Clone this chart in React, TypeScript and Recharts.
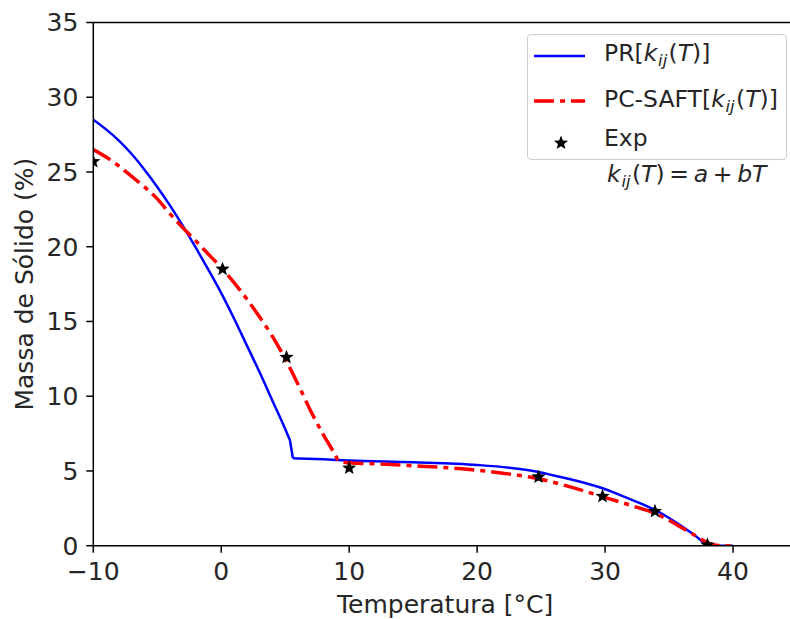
import React from 'react';
import { ComposedChart, Line, Scatter, XAxis, YAxis, ReferenceLine } from 'recharts';

const xTicks = [-10, 0, 10, 20, 30, 40];
const yTicks = [0, 5, 10, 15, 20, 25, 30, 35];

const prX = [-10, -9, -8, -7, -6, -5, -4, -3, -2, -1, 0, 1, 2, 3, 4, 5, 5.37, 5.6, 8, 10, 15, 20, 22.5, 24.7, 26, 27.5, 29.8, 31, 32, 33, 33.9, 35, 36, 37, 38.2, 40];
const prY = [28.5, 27.85, 27.1, 26.2, 25.15, 24.0, 22.75, 21.4, 19.95, 18.45, 16.9, 15.2, 13.4, 11.6, 9.7, 7.8, 7.05, 5.85, 5.78, 5.7, 5.58, 5.4, 5.22, 4.95, 4.7, 4.4, 3.84, 3.45, 3.1, 2.75, 2.39, 1.85, 1.3, 0.7, 0, 0];

const saftX = [-10, -9, -8, -7, -6, -5, -4, -2.7, -2, -1, 0, 1, 2, 3, 4, 5, 6, 7, 8, 8.9, 9.2, 10, 12, 15, 18, 20, 22, 24.7, 27, 29.8, 32, 33.9, 35, 36, 37, 38, 38.7, 39.4, 40];
const saftY = [26.5, 26.0, 25.4, 24.7, 24.0, 23.2, 22.2, 21.0, 20.4, 19.5, 18.6, 17.6, 16.5, 15.3, 14.0, 12.5, 10.8, 9.0, 7.4, 6.1, 5.65, 5.55, 5.48, 5.35, 5.2, 5.05, 4.85, 4.5, 4.0, 3.28, 2.7, 2.17, 1.7, 1.2, 0.7, 0.2, 0.03, 0, 0];

const expX = [-10, 0.1, 5.1, 10, 24.8, 29.8, 33.9, 38];
const expY = [25.7, 18.5, 12.6, 5.2, 4.6, 3.3, 2.3, 0.05];

const prData = prX.map((x, i) => ({ x, y: prY[i] }));
const kinkStart = prX.indexOf(5.37);
const kinkEnd = prX.indexOf(5.6);
const prCurve = prData.slice(0, kinkStart + 1);
const prKink = prData.slice(kinkStart, kinkEnd + 1);
const prTail = prData.slice(kinkEnd);
const saftData = saftX.map((x, i) => ({ x, y: saftY[i] }));
const expData = expX.map((x, i) => ({ x, y: expY[i] }));

const FONT = 'DejaVu Sans';
const FS = 25;
const LFS = 23.5;

const starPoints = (cx: number, cy: number, R: number, r: number) => {
  const pts: string[] = [];
  for (let i = 0; i < 10; i++) {
    const rad = i % 2 === 0 ? R : r;
    const a = -Math.PI / 2 + (i * Math.PI) / 5;
    pts.push(`${cx + rad * Math.cos(a)},${cy + rad * Math.sin(a)}`);
  }
  return pts.join(' ');
};

const Star = (props: any) => {
  const { cx, cy } = props;
  if (cx == null || cy == null) return null;
  return <polygon points={starPoints(cx, cy, 7.5, 3.2)} fill="black" />;
};

const fmt = (v: number) => (v < 0 ? '\u2212' + Math.abs(v) : String(v));

const K = () => (
  <span>
    <i>k</i>
    <span style={{ fontStyle: 'italic', fontSize: '0.7em', position: 'relative', top: '0.3em', marginLeft: '0.05em', marginRight: '0.08em' }}>ij</span>
    (<i>T</i>)
  </span>
);

const Op = ({ c }: { c: string }) => <span style={{ margin: '0 0.2em' }}>{c}</span>;

export default function App() {
  return (
    <div style={{ position: 'absolute', left: 0, top: 0, width: 790, height: 619, overflow: 'hidden', background: 'white' }}>
      <ComposedChart
        width={800}
        height={619}
        margin={{ top: 22.5, right: 3, bottom: 0, left: 0 }}
        style={{ fontFamily: FONT }}
      >
        <XAxis
          type="number"
          dataKey="x"
          domain={[-10, 45]}
          ticks={xTicks}
          allowDataOverflow
          height={73.3}
          tickFormatter={fmt}
          stroke="#000"
          strokeWidth={1.5}
          tickSize={7}
          tickMargin={10}
          tick={{ fill: '#262626', fontSize: FS, fontFamily: FONT }}
          label={{ value: 'Temperatura [°C]', position: 'insideBottom', offset: 6, fill: '#262626', fontSize: FS, fontFamily: FONT }}
        />
        <YAxis
          type="number"
          dataKey="y"
          domain={[0, 35]}
          ticks={yTicks}
          allowDataOverflow
          width={93.3}
          stroke="#000"
          strokeWidth={1.5}
          tickSize={7}
          tickMargin={8}
          tick={{ fill: '#262626', fontSize: FS, fontFamily: FONT }}
          label={{ value: 'Massa de Sólido (%)', angle: -90, position: 'insideLeft', offset: 24, style: { textAnchor: 'middle' }, fill: '#262626', fontSize: FS, fontFamily: FONT }}
        />
        <ReferenceLine y={35} stroke="#000" strokeWidth={1.5} />
        <Line data={prCurve} dataKey="y" type="monotone" stroke="#0000ff" strokeWidth={2.5} dot={false} isAnimationActive={false} />
        <Line data={prKink} dataKey="y" type="linear" stroke="#0000ff" strokeWidth={2.5} dot={false} isAnimationActive={false} />
        <Line data={prTail} dataKey="y" type="monotone" stroke="#0000ff" strokeWidth={2.5} dot={false} isAnimationActive={false} />
        <Line data={saftData} dataKey="y" type="monotone" stroke="#ff0000" strokeWidth={3.5} strokeDasharray="20 6 5 6" dot={false} isAnimationActive={false} />
        <Scatter data={expData} dataKey="y" fill="#000" shape={<Star />} isAnimationActive={false} />
      </ComposedChart>
      <div
        style={{
          position: 'absolute',
          left: 527,
          top: 34,
          width: 260,
          height: 126,
          border: '1px solid #cccccc',
          borderRadius: 4,
          background: 'rgba(255,255,255,0.8)',
          boxSizing: 'border-box',
          fontFamily: FONT,
          fontSize: LFS,
          color: '#262626',
        }}
      >
        <svg width={60} height={126} style={{ position: 'absolute', left: 0, top: 0 }}>
          <line x1={6} y1={21} x2={57} y2={21} stroke="#0000ff" strokeWidth={2.5} />
          <line x1={6} y1={66} x2={57} y2={66} stroke="#ff0000" strokeWidth={3.5} strokeDasharray="20 6 5 6" />
          <polygon points={starPoints(33, 108, 7.5, 3.2)} fill="black" />
        </svg>
        <div style={{ position: 'absolute', left: 76, top: 19, transform: 'translateY(-55%)', whiteSpace: 'nowrap' }}>
          PR[<K />]
        </div>
        <div style={{ position: 'absolute', left: 76, top: 65, transform: 'translateY(-55%)', whiteSpace: 'nowrap' }}>
          PC-SAFT[<K />]
        </div>
        <div style={{ position: 'absolute', left: 76, top: 104, transform: 'translateY(-55%)', whiteSpace: 'nowrap' }}>
          Exp
        </div>
      </div>
      <div
        style={{
          position: 'absolute',
          left: 607,
          top: 175,
          transform: 'translateY(-55%)',
          fontFamily: FONT,
          fontSize: LFS,
          color: '#262626',
          whiteSpace: 'nowrap',
        }}
      >
        <K />
        <Op c="=" />
        <i>a</i>
        <Op c="+" />
        <i>bT</i>
      </div>
    </div>
  );
}
